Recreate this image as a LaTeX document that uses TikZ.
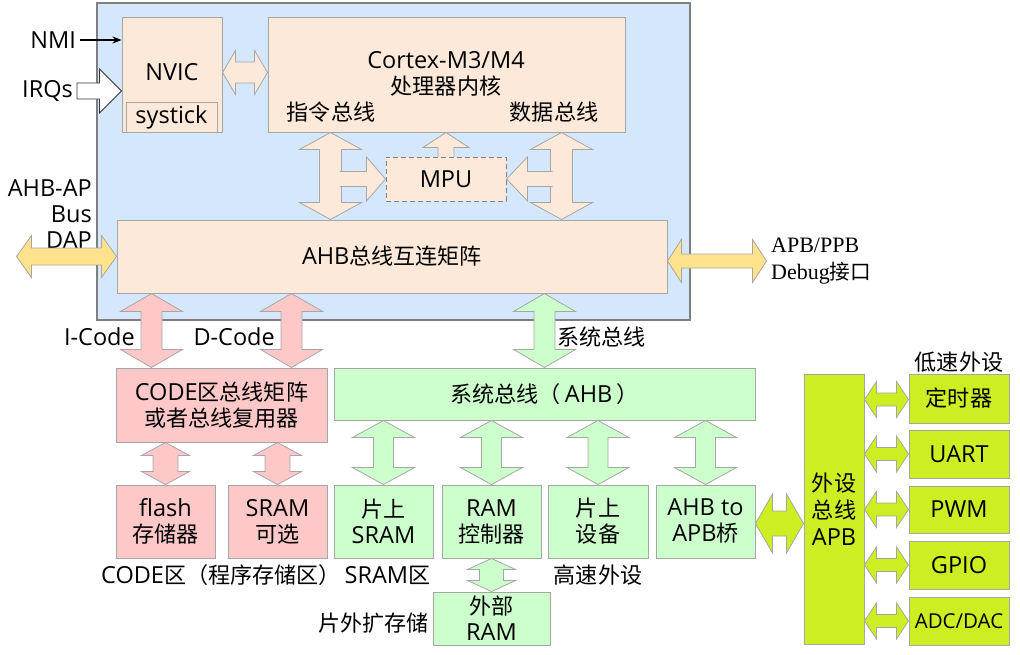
\documentclass[tikz,border=0pt]{standalone}
\usepackage{fontspec}
\setmainfont{Open Sans}
\newfontfamily\cjk[Scale=0.94]{Noto Sans CJK SC}
\newfontfamily\serifface{Liberation Serif}
\usetikzlibrary{calc,arrows.meta}
\newcommand\zh[1]{{\cjk #1}}
\definecolor{bluec}{HTML}{D5E7FB}
\definecolor{peach}{HTML}{FDE9D9}
\definecolor{pinkc}{HTML}{FFC8C8}
\definecolor{greenc}{HTML}{CCFFCC}
\definecolor{limec}{HTML}{CCEE22}
\definecolor{yellowc}{HTML}{FFE38C}
\definecolor{bordergray}{HTML}{A6A6A6}
\definecolor{bluegray}{HTML}{7F7F7F}
% double block arrow: style, end A, end B, head half width, shaft half width, head length
\newcommand\dblarrow[6]{%
  \coordinate (da1) at ($(#2)!#6pt!(#3)$);
  \coordinate (da2) at ($(#3)!#6pt!(#2)$);
  \draw[#1] (#2) -- ($(da1)!#4pt!90:(#3)$) -- ($(da1)!#5pt!90:(#3)$) -- ($(da2)!#5pt!-90:(#2)$) -- ($(da2)!#4pt!-90:(#2)$) -- (#3) -- ($(da2)!#4pt!90:(#2)$) -- ($(da2)!#5pt!90:(#2)$) -- ($(da1)!#5pt!-90:(#3)$) -- ($(da1)!#4pt!-90:(#3)$) -- cycle;}
% single block arrow: style, tail, tip, head half width, shaft half width, head length
\newcommand\sglarrow[6]{%
  \coordinate (da2) at ($(#3)!#6pt!(#2)$);
  \draw[#1] ($(#2)!#5pt!90:(#3)$) -- ($(da2)!#5pt!-90:(#2)$) -- ($(da2)!#4pt!-90:(#2)$) -- (#3) -- ($(da2)!#4pt!90:(#2)$) -- ($(da2)!#5pt!90:(#2)$) -- ($(#2)!#5pt!-90:(#3)$) -- cycle;}
% single block arrow without a drawn tail edge
\newcommand\sglarrowopen[6]{%
  \coordinate (da2) at ($(#3)!#6pt!(#2)$);
  \path[#1,draw=none] ($(#2)!#5pt!90:(#3)$) -- ($(da2)!#5pt!-90:(#2)$) -- ($(da2)!#4pt!-90:(#2)$) -- (#3) -- ($(da2)!#4pt!90:(#2)$) -- ($(da2)!#5pt!90:(#2)$) -- ($(#2)!#5pt!-90:(#3)$) -- cycle;
  \path[#1,fill=none] ($(#2)!#5pt!90:(#3)$) -- ($(da2)!#5pt!-90:(#2)$) -- ($(da2)!#4pt!-90:(#2)$) -- (#3) -- ($(da2)!#4pt!90:(#2)$) -- ($(da2)!#5pt!90:(#2)$) -- ($(#2)!#5pt!-90:(#3)$);}
\begin{document}
\begin{tikzpicture}[x=1pt,y=-1pt,
  font=\fontsize{23.5}{26}\selectfont,
  bx/.style={draw=bordergray, line width=1pt, inner sep=0pt, align=center},
  peachbox/.style={bx, fill=peach},
  pinkbox/.style={bx, fill=pinkc},
  greenbox/.style={bx, fill=greenc},
  limebox/.style={bx, fill=limec},
  txt/.style={inner sep=0pt, align=center},
  arrbase/.style={draw=bordergray, line width=0.8pt, line join=miter},
  peacharr/.style={arrbase, fill=peach},
  pinkarr/.style={arrbase, fill=pinkc},
  greenarr/.style={arrbase, fill=greenc},
  limearr/.style={arrbase, fill=limec},
  yellowarr/.style={arrbase, fill=yellowc},
  hollowarr/.style={draw=black!80, line width=0.8pt, fill=white, line join=miter}]
\useasboundingbox[fill=white] (0,0) rectangle (1020,654);

% core region
\node[draw=bluegray, line width=1.5pt, fill=bluec, minimum width=593pt, minimum height=317pt, inner sep=0pt] (core) at (393.5,161.5) {};

% boxes in the core
\node[peachbox, minimum width=100pt, minimum height=115pt] (nvic) at (172,74.5) {};
\node[txt] (nvict) at (172,72) {NVIC};
\node[peachbox, minimum width=91pt, minimum height=30pt] (systick) at (171.5,117) {systick};
\node[peachbox, minimum width=357pt, minimum height=115pt] (cortex) at (446.5,74.5) {};
\node[txt] (ctitle) at (446,74) {Cortex-M3/M4\\\zh{处理器内核}};
\node[txt] (ibus) at (331,112) {\zh{指令总线}};
\node[txt] (dbus) at (554,112) {\zh{数据总线}};
\node[peachbox, draw=gray, dash pattern=on 5pt off 3pt, minimum width=120pt, minimum height=44pt] (mpu) at (446,179) {MPU};
\node[peachbox, minimum width=550pt, minimum height=73pt] (ahb) at (392,256.5) {AHB\zh{总线互连矩阵}};

% code region
\node[pinkbox, minimum width=211pt, minimum height=74pt] (code) at (221.5,405) {CODE\zh{区总线矩阵}\\\zh{或者总线复用器}};
\node[pinkbox, minimum width=99pt, minimum height=73pt] (flash) at (165.5,521.5) {flash\\\zh{存储器}};
\node[pinkbox, minimum width=99pt, minimum height=73pt] (sramopt) at (277.5,521.5) {SRAM\\\zh{可选}};

% system bus region
\node[greenbox, minimum width=421pt, minimum height=52pt] (sysbus) at (544.5,394) {\zh{系统总线（}\,AHB\,\zh{）}};
\node[greenbox, minimum width=99pt, minimum height=73pt] (sram) at (383.5,521.5) {\zh{片上}\\SRAM};
\node[greenbox, minimum width=99pt, minimum height=73pt] (ramctl) at (491.5,521.5) {RAM\\\zh{控制器}};
\node[greenbox, minimum width=100pt, minimum height=73pt] (dev) at (598,521.5) {\zh{片上}\\\zh{设备}};
\node[greenbox, minimum width=99pt, minimum height=73pt] (bridge) at (705.5,521.5) {AHB to\\APB\zh{桥}};
\node[greenbox, minimum width=117pt, minimum height=53pt] (extram) at (491.5,618.5) {\zh{外部}\\RAM};

% peripheral bus region
\node[limebox, minimum width=60pt, minimum height=270pt, font=\fontsize{23.5}{27}\selectfont] (apb) at (834,509) {\zh{外设}\\\zh{总线}\\APB};
\node[limebox, minimum width=100pt, minimum height=49pt] (timer) at (959,398.5) {\zh{定时器}};
\node[limebox, minimum width=100pt, minimum height=48pt] (uart) at (959,454) {UART};
\node[limebox, minimum width=100pt, minimum height=47pt] (pwm) at (959,509.5) {PWM};
\node[limebox, minimum width=100pt, minimum height=48pt] (gpio) at (959,565) {GPIO};
\node[limebox, minimum width=100pt, minimum height=48pt, font=\fontsize{20.5}{24}\selectfont] (adc) at (959,621) {ADC/DAC};

% labels
\node[txt, anchor=east] (nmi) at (76,40) {NMI};
\node[txt, anchor=east] (irqs) at (73,91) {IRQs};
\node[txt, anchor=east, align=right] (dap) at (92,214) {AHB-AP\\Bus\\DAP};
\node[txt, anchor=west, align=left, font=\fontsize{22}{27}\selectfont\serifface] (ppb) at (771,261) {APB/PPB\\Debug\zh{接口}};
\node[txt, anchor=east] (icl) at (135,337) {I-Code};
\node[txt, anchor=east] (dcl) at (275,337) {D-Code};
\node[txt, anchor=west] (sbl) at (557,337) {\zh{系统总线}};
\node[txt, anchor=west] (codel) at (101,575) {CODE\zh{区（程序存储区）}\,SRAM\zh{区}};
\node[txt] (hsl) at (598,575) {\zh{高速外设}};
\node[txt, anchor=east] (extl) at (429,623) {\zh{片外扩存储}};
\node[txt] (lsl) at (959,362) {\zh{低速外设}};

% connector end points
\coordinate (nmi1) at ($(nmi.east)+(4,0)$);
\coordinate (nmi2) at (nmi1 -| nvic.west);
\coordinate (irq1) at ($(irqs.east)+(4,0)$);
\coordinate (irq2) at (irq1 -| nvic.west);
\coordinate (nc1) at ($(nvic.east)+(0,-2)$);
\coordinate (nc2) at (nc1 -| cortex.west);
\coordinate (cA1) at ($(cortex.south west)+(63,0)$);
\coordinate (cA2) at (cA1 |- ahb.north);
\coordinate (cB1) at ($(cortex.south east)+(-64,0)$);
\coordinate (cB2) at (cB1 |- ahb.north);
\coordinate (mU1) at (mpu.north);
\coordinate (mU2) at (mpu.north |- cortex.south);
\coordinate (mL1) at ($(cA1 |- mpu.west)+(9,0)$);
\coordinate (mL2) at (mpu.west);
\coordinate (mR1) at ($(cB1 |- mpu.east)+(-9,0)$);
\coordinate (mR2) at (mpu.east);
\coordinate (dap2) at (ahb.west);
\coordinate (dap1) at ($(dap2)+(-100,0)$);
\coordinate (ppb1) at ($(ahb.east)+(0,4.5)$);
\coordinate (ppb2) at ($(ppb1)+(99,0)$);
\coordinate (icb) at ($(code.north west)+(36,0)$);
\coordinate (ict) at (icb |- ahb.south);
\coordinate (dcb) at ($(code.north east)+(-36,0)$);
\coordinate (dct) at (dcb |- ahb.south);
\coordinate (sbt) at (sysbus.north |- ahb.south);
\coordinate (sbb) at (sysbus.north);
\coordinate (fl1) at (flash.north |- code.south);
\coordinate (fl2) at (flash.north);
\coordinate (so1) at (sramopt.north |- code.south);
\coordinate (so2) at (sramopt.north);
\coordinate (s1) at (sram.north |- sysbus.south);
\coordinate (s2) at (sram.north);
\coordinate (r1) at (ramctl.north |- sysbus.south);
\coordinate (r2) at (ramctl.north);
\coordinate (d1) at (dev.north |- sysbus.south);
\coordinate (d2) at (dev.north);
\coordinate (b1) at (bridge.north |- sysbus.south);
\coordinate (b2) at (bridge.north);
\coordinate (e1) at (ramctl.south);
\coordinate (e2) at (extram.north);
\coordinate (ba1) at ($(bridge.east)+(0,2)$);
\coordinate (ba2) at (ba1 -| apb.west);
\coordinate (t1) at ($(timer.west -| apb.east)+(0,1)$);
\coordinate (t2) at ($(timer.west)+(0,1)$);
\coordinate (u1) at (uart.west -| apb.east);
\coordinate (u2) at (uart.west);
\coordinate (p1) at (pwm.west -| apb.east);
\coordinate (p2) at (pwm.west);
\coordinate (g1) at (gpio.west -| apb.east);
\coordinate (g2) at (gpio.west);
\coordinate (a1) at (adc.west -| apb.east);
\coordinate (a2) at (adc.west);

% connectors
\draw[line width=1.2pt, -{Stealth[length=9pt,width=7pt]}] (nmi1) -- (nmi2);
\sglarrow{hollowarr}{irq1}{irq2}{22}{8}{22}
\dblarrow{peacharr}{nc1}{nc2}{22}{10.5}{13}
\dblarrow{peacharr}{cA1}{cA2}{31}{11}{17}
\dblarrow{peacharr}{cB1}{cB2}{31}{11}{17}
\sglarrowopen{peacharr}{mU1}{mU2}{23}{8}{15}
\sglarrowopen{peacharr}{mL1}{mL2}{22}{7.5}{19}
\sglarrowopen{peacharr}{mR1}{mR2}{22}{7.5}{21}
\dblarrow{yellowarr}{dap1}{dap2}{21}{8.5}{15}
\dblarrow{yellowarr}{ppb1}{ppb2}{21.5}{7}{14}
\dblarrow{pinkarr}{ict}{icb}{31}{10.5}{18}
\dblarrow{pinkarr}{dct}{dcb}{31}{10.5}{18}
\dblarrow{greenarr}{sbt}{sbb}{31}{10.5}{18}
\dblarrow{pinkarr}{fl1}{fl2}{24}{12.5}{13}
\dblarrow{pinkarr}{so1}{so2}{24}{12.5}{13}
\dblarrow{greenarr}{s1}{s2}{31}{10}{17}
\dblarrow{greenarr}{r1}{r2}{31}{10}{17}
\dblarrow{greenarr}{d1}{d2}{31}{10}{17}
\dblarrow{greenarr}{b1}{b2}{31}{10}{17}
\dblarrow{greenarr}{e1}{e2}{24}{12}{11}
\dblarrow{limearr}{ba1}{ba2}{29.5}{12.5}{17}
\dblarrow{limearr}{t1}{t2}{18}{6.5}{12}
\dblarrow{limearr}{u1}{u2}{18}{6.5}{12}
\dblarrow{limearr}{p1}{p2}{18}{6.5}{12}
\dblarrow{limearr}{g1}{g2}{18}{6.5}{12}
\dblarrow{limearr}{a1}{a2}{18}{6.5}{12}
\end{tikzpicture}
\end{document}
